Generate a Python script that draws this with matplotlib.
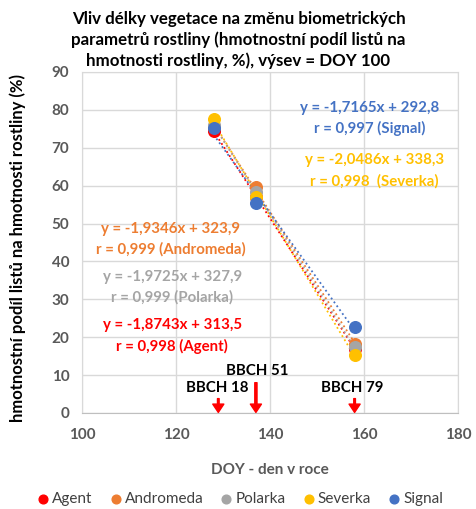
import matplotlib
matplotlib.use("Agg")
import matplotlib.pyplot as plt
import numpy as np

plt.rcParams['font.family'] = ['Lato', 'DejaVu Sans']

doy = [128, 137, 158]
series = ["Agent", "Andromeda", "Polarka", "Severka", "Signal"]
colors = ["#FF0000", "#ED7D31", "#A5A5A5", "#FFC000", "#4472C4"]
values = {
    "Agent": [74.5, 57.0, 17.0],
    "Andromeda": [75.5, 59.7, 18.3],
    "Polarka": [76.0, 58.3, 17.3],
    "Severka": [77.6, 57.0, 15.3],
    "Signal": [75.3, 55.3, 22.6],
}
eq_text = {
    "Signal": ("y = -1,7165x + 292,8", "r = 0,997 (Signal)"),
    "Severka": ("y = -2,0486x + 338,3", "r = 0,998  (Severka)"),
    "Andromeda": ("y = -1,9346x + 323,9", "r = 0,999 (Andromeda)"),
    "Polarka": ("y = -1,9725x + 327,9", "r = 0,999 (Polarka)"),
    "Agent": ("y = -1,8743x + 313,5", "r = 0,998 (Agent)"),
}
eq_pos = {
    "Signal": (161.3, 77.7),
    "Severka": (162.2, 63.9),
    "Andromeda": (118.9, 45.8),
    "Polarka": (119.2, 33.2),
    "Agent": (119.2, 20.4),
}
bbch_labels = ["BBCH 18", "BBCH 51", "BBCH 79"]
bbch_doy = [129, 137, 158]
bbch_text_x = [128.8, 137.3, 157.4]
bbch_text_y = [6.6, 11.1, 6.6]
bbch_arrow_len = [3.8, 8.0, 3.8]

fig = plt.figure(figsize=(4.77, 5.09), dpi=100)
ax = fig.add_axes([82/477, 1-413/509, 376/477, 341/509])

for name, c in zip(series, colors):
    y = values[name]
    ax.scatter(doy, y, s=70, color=c, zorder=3, label=name)
    p = np.polyfit(doy, y, 1)
    xx = np.array([doy[0], doy[-1]])
    ax.plot(xx, np.polyval(p, xx), ':', color=c, lw=1.3, zorder=2)

for name, c in zip(series, colors):
    x0, y0 = eq_pos[name]
    l1, l2 = eq_text[name]
    ax.text(x0, y0, l1 + "\n" + l2, color=c, fontsize=10.8, fontweight='bold',
            ha='center', va='center', linespacing=1.55)

for lab, d, tx, ty, al in zip(bbch_labels, bbch_doy, bbch_text_x, bbch_text_y, bbch_arrow_len):
    ax.text(tx, ty, lab, fontsize=10.8, fontweight='bold', ha='center', va='center',
            color='black')
    ax.annotate('', xy=(d, 0.15), xytext=(d, al),
                arrowprops=dict(facecolor='#FF0000', edgecolor='#FF0000',
                                width=1.6 if al > 5 else 1.2, headwidth=8,
                                headlength=6, shrink=0))

ax.set_xlim(100, 180)
ax.set_ylim(0, 90)
ax.set_xticks([100, 120, 140, 160, 180])
ax.set_yticks(range(0, 91, 10))
ax.grid(True, color='#D9D9D9', lw=1)
ax.set_axisbelow(True)
for s in ['top', 'right', 'left']:
    ax.spines[s].set_color('#D9D9D9')
ax.spines['bottom'].set_color('#BFBFBF')
ax.tick_params(length=0, labelsize=11, labelcolor='#595959', pad=9)
ax.tick_params(axis='x', pad=11)
for t in ax.get_xticklabels() + ax.get_yticklabels():
    t.set_fontweight('bold')

fig.text(270/477, 1-470/509, "DOY - den v roce", fontsize=11, fontweight='bold',
         color='#595959', ha='center', va='center')
fig.text(18/477, 1-248/509, "hmotnostní podíl listů na hmotnosti rostliny (%)",
         fontsize=12, fontweight='bold', color='black', rotation=90,
         ha='center', va='center')

fig.text(0.5, 1-40/509,
         "Vliv délky vegetace na změnu biometrických\nparametrů rostliny (hmotnostní podíl listů na\nhmotnosti rostliny, %), výsev = DOY 100",
         fontsize=12.2, fontweight='bold', linespacing=1.3, ha='center', va='center')

fig.legend(loc='center', ncol=5, bbox_to_anchor=(0.5, 1-499/509), frameon=False,
           fontsize=11, handletextpad=0.0, columnspacing=0.9, markerscale=0.75,
           labelcolor='#404040', handlelength=1.2)

fig.savefig("out.png", dpi=100)
